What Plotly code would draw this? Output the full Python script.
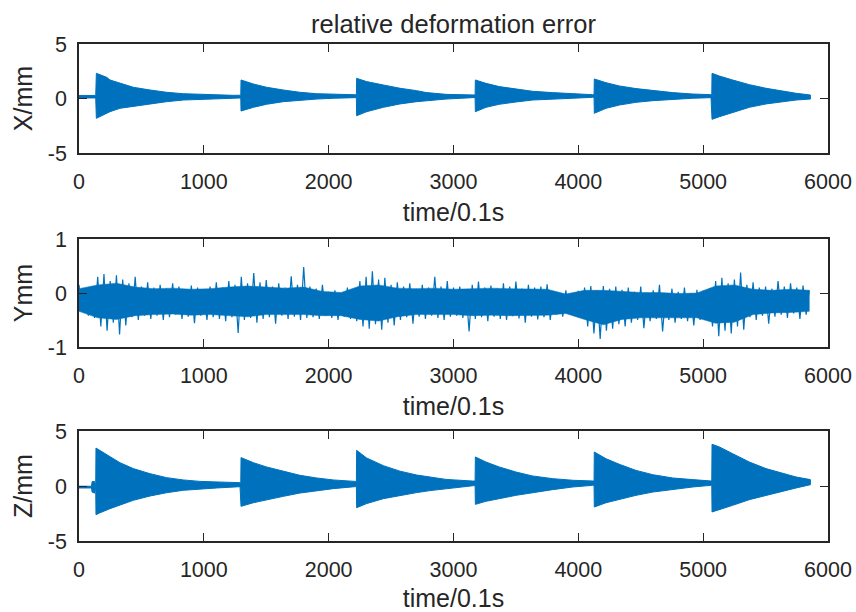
import plotly.graph_objects as go

# ---------------- data ----------------
# X panel: envelope of the dense signal (time in 0.1 s, value in mm)
x_time = [0, 134, 139, 222, 248, 328, 435, 569, 702, 836, 969, 1236, 1296,
          1298, 1397, 1503, 1637, 1770, 1904, 2037, 2198, 2222,
          2224, 2304, 2438, 2571, 2705, 2780, 2940, 3154, 3173,
          3175, 3260, 3367, 3500, 3634, 3794, 3955, 4115, 4126,
          4128, 4222, 4329, 4462, 4596, 4756, 4916, 5063, 5069,
          5071, 5130, 5236, 5370, 5503, 5637, 5744, 5859]
x_upper = [0.28, 0.28, 2.31, 1.94, 1.70, 1.39, 1.03, 0.78, 0.57, 0.44, 0.38, 0.29, 0.30,
           1.70, 1.33, 1.03, 0.78, 0.57, 0.44, 0.38, 0.35, 0.34,
           1.85, 1.55, 1.24, 0.94, 0.72, 0.55, 0.38, 0.32, 0.32,
           1.70, 1.39, 1.09, 0.85, 0.66, 0.54, 0.41, 0.35, 0.35,
           1.79, 1.45, 1.15, 0.91, 0.72, 0.54, 0.41, 0.35, 0.35,
           2.31, 2.06, 1.70, 1.27, 0.94, 0.66, 0.48, 0.32]
x_lower = [0.05, 0.05, -1.82, -1.36, -1.21, -0.90, -0.69, -0.50, -0.29, -0.14, -0.07, 0.02, 0.05,
           -1.15, -0.81, -0.53, -0.29, -0.14, -0.05, 0.02, 0.08, 0.08,
           -1.58, -1.21, -0.81, -0.50, -0.29, -0.18, -0.05, 0.08, 0.08,
           -1.21, -0.81, -0.53, -0.32, -0.14, -0.05, 0.02, 0.11, 0.11,
           -1.36, -0.90, -0.60, -0.35, -0.20, -0.07, 0.02, 0.08, 0.08,
           -1.91, -1.67, -1.27, -0.81, -0.50, -0.29, -0.14, -0.05]

# Y panel: solid core of the noisy signal
y_core_time = list(range(0, 5851, 150))
y_core_top = [0.08, 0.15, 0.18, 0.11, 0.08, 0.09, 0.07, 0.08, 0.11, 0.13,
              0.11, 0.09, 0.11, 0.03, 0.01, 0.13, 0.15, 0.09, 0.08, 0.09,
              0.07, 0.08, 0.09, 0.08, 0.07, 0.07, -0.02, 0.05, 0.05, 0.03,
              0.01, 0.01, -0.01, 0.00, 0.13, 0.15, 0.07, 0.05, 0.07, 0.05]
y_core_bot = [-0.34, -0.46, -0.49, -0.42, -0.40, -0.39, -0.41, -0.40, -0.42, -0.44,
              -0.40, -0.40, -0.40, -0.42, -0.42, -0.49, -0.52, -0.44, -0.40, -0.40,
              -0.40, -0.42, -0.41, -0.42, -0.42, -0.41, -0.38, -0.49, -0.59, -0.49,
              -0.46, -0.46, -0.46, -0.46, -0.56, -0.54, -0.40, -0.37, -0.36, -0.34]

# Y panel: alternating local maxima / minima (spikes) of the noisy signal
y_hi_time = list(range(0, 5851, 50))
y_hi = [0.15, 0.08, 0.12,
        0.30, 0.35, 0.22, 0.33, 0.25,
        0.18, 0.30, 0.12, 0.20,
        0.10, 0.15, 0.08, 0.18, 0.12, 0.05, 0.14, 0.10, 0.06,
        0.12, 0.20, 0.10, 0.22, 0.15, 0.30, 0.18, 0.37, 0.20,
        0.24, 0.12, 0.18, 0.10, 0.31, 0.15, 0.48,
        0.12, 0.08, 0.15, 0.02, 0.05, 0.00, 0.10, 0.05,
        0.22, 0.30, 0.40, 0.25, 0.28, 0.15, 0.20,
        0.12, 0.18, 0.08, 0.15, 0.10, 0.30, 0.12, 0.22,
        0.10, 0.12, 0.05, 0.15, 0.21, 0.10, 0.14, 0.08, 0.18, 0.12, 0.21, 0.08, 0.15, 0.10, 0.12, 0.16,
        0.02, 0.00, 0.05, -0.02, 0.04,
        0.10, 0.13, 0.05, 0.13, 0.08, 0.12, 0.06, 0.10,
        0.02, 0.12, 0.00, 0.05, 0.15, -0.02, 0.08, 0.02, 0.10, 0.00, 0.06, 0.04, 0.08,
        0.22, 0.28, 0.18, 0.25, 0.38,
        0.15, 0.20, 0.10, 0.12, 0.08, 0.22, 0.12, 0.18, 0.10, 0.14, 0.05]
y_lo_time = list(range(25, 5826, 50))
y_lo = [-0.35, -0.42, -0.46,
        -0.62, -0.70, -0.55, -0.77, -0.60,
        -0.45, -0.50, -0.42, -0.48,
        -0.42, -0.50, -0.45, -0.40, -0.48, -0.44, -0.56, -0.42, -0.50,
        -0.45, -0.48, -0.52, -0.45, -0.74, -0.50, -0.46, -0.55, -0.48,
        -0.45, -0.57, -0.42, -0.48, -0.44, -0.50, -0.46,
        -0.45, -0.48, -0.42, -0.46, -0.50, -0.44, -0.48, -0.52,
        -0.62, -0.66, -0.58, -0.68, -0.55, -0.60, -0.50,
        -0.45, -0.57, -0.44, -0.48, -0.42, -0.46, -0.50, -0.44,
        -0.42, -0.46, -0.71, -0.48, -0.45, -0.52, -0.44, -0.48, -0.50, -0.43, -0.47, -0.55, -0.44, -0.49, -0.45, -0.50,
        -0.40, -0.44, -0.38, -0.42, -0.45,
        -0.62, -0.75, -0.85, -0.70, -0.66, -0.58, -0.62, -0.55,
        -0.50, -0.65, -0.52, -0.48, -0.71, -0.50, -0.55, -0.48, -0.52, -0.60, -0.50, -0.48, -0.62,
        -0.80, -0.70, -0.75, -0.62, -0.68,
        -0.45, -0.50, -0.42, -0.57, -0.44, -0.40, -0.46, -0.38, -0.48, -0.40]

# Z panel: envelope of the dense signal
z_time = [0, 100, 105, 125, 130, 134, 136, 165, 248, 328, 435, 569, 702, 836, 969, 1103, 1290, 1296,
          1298, 1397, 1503, 1637, 1770, 1904, 2037, 2210, 2222,
          2224, 2304, 2438, 2571, 2705, 2812, 2940, 3154, 3173,
          3175, 3260, 3367, 3500, 3634, 3794, 3955, 4115, 4126,
          4128, 4222, 4329, 4462, 4596, 4756, 4916, 5063, 5069,
          5071, 5130, 5236, 5370, 5503, 5637, 5744, 5859]
z_upper = [-0.02, -0.02, 0.40, 0.42, 0.15, 0.15, 3.45, 3.24, 2.64, 2.12, 1.58, 1.12, 0.76, 0.55, 0.42, 0.36, 0.30, 0.30,
           2.58, 2.12, 1.73, 1.33, 0.97, 0.73, 0.55, 0.42, 0.42,
           3.24, 2.55, 1.85, 1.35, 1.00, 0.80, 0.60, 0.45, 0.45,
           2.64, 2.18, 1.73, 1.27, 0.91, 0.67, 0.52, 0.45, 0.45,
           3.09, 2.48, 1.97, 1.42, 1.03, 0.73, 0.58, 0.45, 0.45,
           3.79, 3.55, 2.94, 2.18, 1.58, 1.12, 0.82, 0.58]
z_lower = [-0.18, -0.18, -0.55, -0.65, -0.30, -0.30, -2.61, -2.45, -2.06, -1.70, -1.30, -0.91, -0.61, -0.39, -0.30, -0.18, -0.06, -0.06,
           -1.85, -1.52, -1.24, -0.94, -0.64, -0.42, -0.24, -0.06, -0.06,
           -1.97, -1.60, -1.15, -0.85, -0.60, -0.42, -0.22, 0.02, 0.05,
           -1.67, -1.39, -1.15, -0.85, -0.61, -0.33, -0.09, 0.06, 0.06,
           -1.91, -1.52, -1.21, -0.85, -0.55, -0.30, -0.09, 0.06, 0.06,
           -2.36, -2.12, -1.76, -1.24, -0.85, -0.48, -0.18, 0.12]

x_tick_vals = [0, 1000, 2000, 3000, 4000, 5000, 6000]
x_tick_text = ["0", "1000", "2000", "3000", "4000", "5000", "6000"]
x_label = "time/0.1s"
panel_titles = ["X/mm", "Ymm", "Z/mm"]
panel_ranges = [[-5, 5], [-1, 1], [-5, 5]]
panel_ticks = [[-5, 0, 5], [-1, 0, 1], [-5, 0, 5]]
panel_ticktext = [["-5", "0", "5"], ["-1", "0", "1"], ["-5", "0", "5"]]
chart_title = "relative deformation error"

assert len(x_time) == len(x_upper) == len(x_lower)
assert len(z_time) == len(z_upper) == len(z_lower)
assert len(y_hi_time) == len(y_hi) and len(y_lo_time) == len(y_lo)
assert len(y_core_time) == len(y_core_top) == len(y_core_bot)

# ---------------- styling ----------------
W, H = 856, 612
BLUE = "#0072BD"
INK = "#262626"
FONT = "Liberation Sans, Arial, sans-serif"

left_px, right_px = 79, 828
panels_px = [(44, 153), (239, 347), (431, 541)]

fig = go.Figure()


def band(t, up, lo, xa, ya, lw=1.0):
    xs = list(t) + list(reversed(t))
    ys = list(up) + list(reversed(lo))
    fig.add_trace(go.Scatter(x=xs, y=ys, mode="lines", fill="toself",
                             fillcolor=BLUE, line=dict(color=BLUE, width=lw),
                             xaxis=xa, yaxis=ya, hoverinfo="skip",
                             showlegend=False))


band(x_time, x_upper, x_lower, "x", "y")

band(y_core_time, y_core_top, y_core_bot, "x2", "y2", lw=0.5)
# interleave Y maxima / minima into one line
pairs = sorted(list(zip(y_hi_time, y_hi)) + list(zip(y_lo_time, y_lo)))
fig.add_trace(go.Scatter(x=[p[0] for p in pairs], y=[p[1] for p in pairs],
                         mode="lines", line=dict(color=BLUE, width=1.2),
                         xaxis="x2", yaxis="y2", showlegend=False))

band(z_time, z_upper, z_lower, "x3", "y3")

layout = dict(
    width=W, height=H, autosize=False,
    margin=dict(l=0, r=0, t=0, b=0),
    paper_bgcolor="white", plot_bgcolor="white",
    font=dict(family=FONT, color=INK, size=21),
    showlegend=False,
    title=dict(text=chart_title, x=453.5 / W, xanchor="center", xref="paper",
               y=1 - 24 / H, yanchor="middle", yref="container",
               font=dict(family=FONT, size=25.5, color=INK)),
)

x_dom = [left_px / W, right_px / W]
for i, (top, bot) in enumerate(panels_px):
    sfx = "" if i == 0 else str(i + 1)
    y_dom = [1 - bot / H, 1 - top / H]
    common = dict(showline=True, linecolor=INK, linewidth=1.6, mirror="ticks",
                  ticks="inside", ticklen=8, tickwidth=1.4, tickcolor=INK,
                  showgrid=False, zeroline=False, automargin=False,
                  tickfont=dict(family=FONT, size=21.5, color=INK))
    layout["xaxis" + sfx] = dict(
        domain=x_dom, anchor="y" + sfx, range=[0, 6000],
        tickmode="array", tickvals=x_tick_vals, ticktext=x_tick_text,
        title=dict(text=x_label, standoff=11,
                   font=dict(family=FONT, size=25, color=INK)),
        ticklabelstandoff=8,
        **common)
    layout["yaxis" + sfx] = dict(
        domain=y_dom, anchor="x" + sfx, range=panel_ranges[i],
        tickmode="array", tickvals=panel_ticks[i], ticktext=panel_ticktext[i],
        title=dict(text=panel_titles[i], standoff=8,
                   font=dict(family=FONT, size=25, color=INK)),
        ticklabelstandoff=6,
        **common)

fig.update_layout(**layout)
# remove the page's default body margin so the 856x612 figure fills the window
fig.write_html("out.html",
               config={"displayModeBar": False},
               post_script="document.body.style.margin='0';"
                           "document.body.style.overflow='hidden';")
